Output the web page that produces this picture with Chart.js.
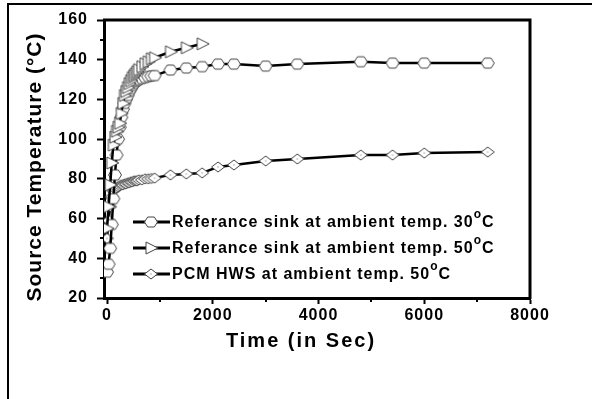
<!DOCTYPE html>
<html><head><meta charset="utf-8">
<script src="https://cdn.jsdelivr.net/npm/chart.js@4/dist/chart.umd.min.js"></script>
<style>html,body{margin:0;padding:0;background:#fff;overflow:hidden}#wrap{position:relative;width:592px;height:399px}</style>
</head><body><div id="wrap"><canvas id="c" width="592" height="399"></canvas></div>
<script>
// ---- data ----
const timeA = [0,30,60,90,120,150,180,210,240,270,300,330,360,390,420,450,480,510,540,570,600,660,720,780,840,900,1200,1500,1800,2100,2400,3000,3600,4800,5400,6000,7200];
const timeB = [0,30,60,90,120,150,180,210,240,270,300,330,360,390,420,450,480,510,540,570,600,660,720,780,840,900,1200,1500,1800];
const sink30 = [33,37,45,57,70,82,92,100,106,111,115,118,120,122,124,125.5,127,128,129,129.5,130,130.5,131,131.5,131.8,132,134.8,135.8,136.5,137.8,137.8,136.8,137.8,139,138.3,138.3,138.3];
const sink50 = [55,66,77,88,97,101,104,106,108,113,118,122,124,126,128,129.5,131,132,133,134,135,136.5,138,139,140.5,141,144,146,148];
const pcm50 = [50,59,66,71,74,75,75.5,76,76.5,77,77,77.5,77.5,78,78,78.5,78.5,79,79,79,79.5,79.5,80,80,80.2,80.4,82,82.5,83,86,87,89,90,92,92,93,93.5];
const xTicks = [0,2000,4000,6000,8000];
const xMinor = [1000,3000,5000,7000];
const yMinor = [30,50,70,90,110,130,150];
const legendText = ['Referance sink at ambient temp. 30','Referance sink at ambient temp. 50','PCM HWS at ambient temp. 50'];
const xTitle = 'Time (in Sec)';
const yTitle = 'Source Temperature (\u00B0C)';

// ---- markers ----
function makeMarker(kind){
  const c=document.createElement('canvas'); c.width=16; c.height=16;
  const g=c.getContext('2d'); g.translate(8,8); g.beginPath();
  if(kind==='hex'){g.moveTo(-6.5,0);g.lineTo(-3.3,-5);g.lineTo(3.3,-5);g.lineTo(6.5,0);g.lineTo(3.3,5);g.lineTo(-3.3,5);}
  else if(kind==='tri'){g.moveTo(-5,-6);g.lineTo(7,0);g.lineTo(-5,6);}
  else {g.moveTo(-6.5,0);g.lineTo(0,-5);g.lineTo(6.5,0);g.lineTo(0,5);}
  g.closePath(); g.fillStyle='#fff'; g.fill(); g.lineWidth=1; g.strokeStyle='#444'; g.stroke();
  if(kind==='dia'){g.fillStyle='#666';g.fillRect(-0.5,-0.5,1,1);}
  return c;
}
const mHex=makeMarker('hex'), mTri=makeMarker('tri'), mDia=makeMarker('dia');
const markers=[mHex,mTri,mDia];
const pts=(xs,ys)=>xs.map((x,i)=>({x:x,y:ys[i]}));
const FONT='"Liberation Sans", Arial, sans-serif';

const deco={
  id:'deco',
  beforeDraw(chart){ chart.ctx.letterSpacing='1px'; },
  afterDraw(chart){
    const ctx=chart.ctx, a=chart.chartArea, xs=chart.scales.x, ys=chart.scales.y;
    ctx.save();
    ctx.strokeStyle='#000';
    ctx.lineWidth=3; ctx.beginPath(); ctx.moveTo(a.left-1,a.top); ctx.lineTo(a.right,a.top); ctx.lineTo(a.right,a.bottom+1); ctx.stroke();
    ctx.lineWidth=2; ctx.beginPath();
    yMinor.forEach(v=>{const y=Math.round(ys.getPixelForValue(v)); ctx.moveTo(a.left-4,y); ctx.lineTo(a.left,y);});
    xMinor.forEach(v=>{const x=Math.round(xs.getPixelForValue(v)); ctx.moveTo(x,a.bottom); ctx.lineTo(x,a.bottom+4);});
    ctx.stroke();
    ctx.lineWidth=2; ctx.strokeRect(8,4,700,600);
    ctx.fillStyle='#000'; ctx.textAlign='center'; ctx.textBaseline='middle';
    ctx.font='bold 20px '+FONT; ctx.letterSpacing='2px';
    ctx.fillText(xTitle,301,341);
    ctx.save(); ctx.translate(35,167); ctx.rotate(-Math.PI/2);
    ctx.font='bold 21px '+FONT; ctx.letterSpacing='1px';
    ctx.fillText(yTitle,0,0); ctx.restore();
    const rows=[222,248,274];
    rows.forEach((ry,i)=>{
      ctx.lineWidth=3; ctx.beginPath(); ctx.moveTo(133,ry); ctx.lineTo(170,ry); ctx.stroke();
      const m=markers[i]; ctx.drawImage(m,151-m.width/2,ry-m.height/2);
      ctx.textAlign='left'; ctx.textBaseline='middle'; ctx.letterSpacing='1px';
      ctx.font='bold 16px '+FONT;
      let x=172; ctx.fillText(legendText[i],x,ry+1); x+=ctx.measureText(legendText[i]).width;
      ctx.font='bold 12px '+FONT; ctx.fillText('o',x,ry-7); x+=ctx.measureText('o').width;
      ctx.font='bold 16px '+FONT; ctx.fillText('C',x,ry+1);
    });
    ctx.restore();
  }
};

new Chart(document.getElementById('c'),{
  type:'scatter',
  data:{datasets:[
    {label:legendText[0],data:pts(timeA,sink30),showLine:true,borderColor:'#000',borderWidth:2.5,pointStyle:mHex,tension:0,order:1},
    {label:legendText[1],data:pts(timeB,sink50),showLine:true,borderColor:'#000',borderWidth:2.5,pointStyle:mTri,tension:0,order:0},
    {label:legendText[2],data:pts(timeA,pcm50),showLine:true,borderColor:'#000',borderWidth:2.5,pointStyle:mDia,tension:0,order:2}
  ]},
  options:{
    responsive:false, animation:false, devicePixelRatio:1,
    layout:{padding:{left:0,top:20,right:62,bottom:41}},
    plugins:{legend:{display:false},tooltip:{enabled:false}},
    scales:{
      x:{type:'linear',min:-57,max:8000,
        afterBuildTicks:s=>{s.ticks=xTicks.map(v=>({value:v}));},
        afterFit:s=>{s.height=60;},
        ticks:{color:'#000',font:{family:FONT,size:16,weight:'bold'},padding:2,maxRotation:0,autoSkip:false,callback:v=>String(v)},
        grid:{display:true,drawOnChartArea:false,drawTicks:true,tickLength:6,tickWidth:2,tickColor:'#000'},
        border:{display:true,width:3,color:'#000'}},
      y:{type:'linear',min:20,max:160,
        ticks:{stepSize:20,color:'#000',font:{family:FONT,size:16,weight:'bold'},padding:9,callback:v=>String(v)},
        afterFit:s=>{s.width=104;},
        grid:{display:true,drawOnChartArea:false,drawTicks:true,tickLength:7,tickWidth:2,tickColor:'#000'},
        border:{display:true,width:3,color:'#000'}}
    }
  },
  plugins:[deco]
});
</script></body></html>
